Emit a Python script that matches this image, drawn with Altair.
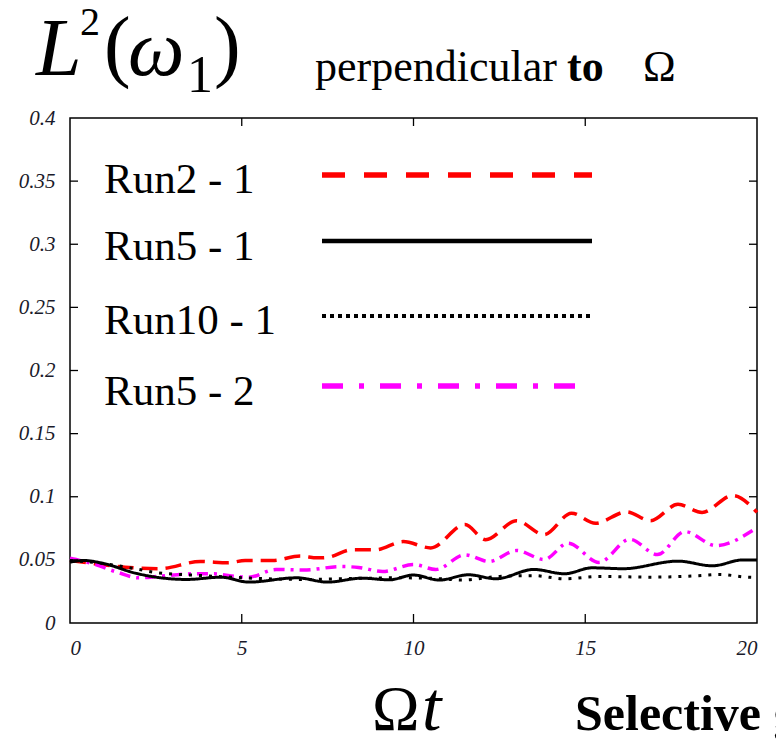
import altair as alt
import pandas as pd

# ---------------- data ----------------
series_names = ["Run2 - 1", "Run5 - 1", "Run10 - 1", "Run5 - 2"]

t_run2_1 = [0, 0.7, 1.6, 2.6, 3.8, 4.6, 5.1, 5.9, 6.7, 7.2, 7.5, 8.2, 8.9, 9.7, 10.5,
            11.5, 12.1, 13.0, 13.8, 14.6, 15.3, 16.2, 16.9, 17.7, 18.4, 19.3, 20.0]
v_run2_1 = [0.0495, 0.047, 0.0442, 0.043, 0.0487, 0.0477, 0.0495, 0.0495, 0.053, 0.0516,
            0.052, 0.058, 0.058, 0.0645, 0.0595, 0.078, 0.066, 0.081, 0.070, 0.087,
            0.079, 0.088, 0.081, 0.094, 0.0876, 0.101, 0.0876]

t_run5_1 = [0, 0.4, 1.0, 1.9, 3.4, 4.4, 5.2, 6.6, 7.5, 8.5, 9.3, 10.0, 10.75, 11.6, 12.4,
            13.5, 14.4, 15.2, 16.1, 17.7, 18.7, 19.6, 20.0]
v_run5_1 = [0.0482, 0.0495, 0.047, 0.0395, 0.0345, 0.0363, 0.0324, 0.0358, 0.0324, 0.0355,
            0.0342, 0.038, 0.034, 0.0382, 0.035, 0.0424, 0.039, 0.0437, 0.043, 0.049,
            0.0453, 0.050, 0.050]

t_run10_1 = [0, 1.0, 1.9, 2.5, 3.9, 5.3, 6.8, 7.8, 8.7, 9.6, 10.85, 11.4, 12.5, 13.5,
             14.4, 15.4, 16.9, 18.3, 18.9, 19.7, 20.0]
v_run10_1 = [0.0495, 0.047, 0.043, 0.040, 0.0375, 0.0355, 0.0345, 0.035, 0.0355, 0.0358,
             0.035, 0.034, 0.0369, 0.0375, 0.035, 0.0369, 0.0363, 0.0375, 0.0385, 0.0363, 0.036]

t_run5_2 = [0, 0.66, 1.4, 2.0, 2.6, 3.6, 4.2, 4.5, 5.2, 6.0, 6.8, 7.9, 8.4, 9.1, 10.0,
            10.65, 11.5, 12.2, 13.0, 13.8, 14.5, 15.4, 16.3, 17.1, 17.9, 18.8, 19.9]
v_run5_2 = [0.0513, 0.047, 0.040, 0.0358, 0.037, 0.039, 0.039, 0.038, 0.0363, 0.0424,
            0.042, 0.0447, 0.044, 0.0408, 0.0463, 0.0424, 0.054, 0.0487, 0.0574, 0.0503,
            0.0632, 0.048, 0.0663, 0.0542, 0.0724, 0.0613, 0.0737]

x_tick_values = [0, 5, 10, 15, 20]
y_tick_values = [0, 0.05, 0.1, 0.15, 0.2, 0.25, 0.3, 0.35, 0.4]
x_inner_ticks = [5, 10, 15]
y_inner_ticks = [0.05, 0.1, 0.15, 0.2, 0.25, 0.3, 0.35]

# ---------------- layout / style ----------------
W, H = 687, 505
SERIF = "Liberation Serif"

xs = alt.Scale(domain=[0, 20], nice=False, zero=False)
ys = alt.Scale(domain=[0, 0.4], nice=False)

x_axis = alt.Axis(values=x_tick_values, ticks=False, domain=False, grid=False,
                  labelFont=SERIF, labelFontStyle="italic", labelFontSize=21,
                  labelColor="#1a1a2a", labelPadding=14, title=None,
                  labelExpr="datum.value")
y_axis = alt.Axis(values=y_tick_values, ticks=False, domain=False, grid=False,
                  labelFont=SERIF, labelFontStyle="italic", labelFontSize=21,
                  labelColor="#1a1a2a", labelPadding=15, title=None,
                  labelExpr="datum.value")


def X(field):
    return alt.X(field, type="quantitative", scale=xs, axis=x_axis, title=None)


def Y(field):
    return alt.Y(field, type="quantitative", scale=ys, axis=y_axis, title=None)


styles = {
    "Run2 - 1": dict(color="#ff0000", dash=[16, 8], width=3.5, ldash=[23, 19], lwidth=5.5, lx2=522),
    "Run5 - 1": dict(color="#000000", dash=[1, 0], width=3, ldash=[1, 0], lwidth=4.5, lx2=522),
    "Run10 - 1": dict(color="#000000", dash=[3, 7], width=3, ldash=[4, 4], lwidth=4, lx2=522),
    "Run5 - 2": dict(color="#ff00ff", dash=[11, 6, 3, 6], width=3.5, ldash=[21, 16, 5, 16], lwidth=5.5, lx2=510),
}
series_data = {
    "Run2 - 1": (t_run2_1, v_run2_1),
    "Run5 - 1": (t_run5_1, v_run5_1),
    "Run10 - 1": (t_run10_1, v_run10_1),
    "Run5 - 2": (t_run5_2, v_run5_2),
}

layers = []

# data lines (draw order: red, magenta, dotted, solid)
for name in ["Run2 - 1", "Run5 - 2", "Run10 - 1", "Run5 - 1"]:
    tt, vv = series_data[name]
    st = styles[name]
    df = pd.DataFrame({"t": tt, "v": vv})
    layers.append(
        alt.Chart(df).mark_line(color=st["color"], strokeDash=st["dash"],
                                strokeWidth=st["width"], interpolate="monotone")
        .encode(x=X("t"), y=Y("v"))
    )

# inward tick marks on all four sides
ydf = pd.DataFrame({"v": y_inner_ticks})
xdf = pd.DataFrame({"t": x_inner_ticks})
layers.append(alt.Chart(ydf).mark_rule(color="black", strokeWidth=1.3)
              .encode(y=Y("v"), x=alt.value(0), x2=alt.value(8)))
layers.append(alt.Chart(ydf).mark_rule(color="black", strokeWidth=1.3)
              .encode(y=Y("v"), x=alt.value(W - 8), x2=alt.value(W)))
layers.append(alt.Chart(xdf).mark_rule(color="black", strokeWidth=1.3)
              .encode(x=X("t"), y=alt.value(H - 9), y2=alt.value(H)))
layers.append(alt.Chart(xdf).mark_rule(color="black", strokeWidth=1.3)
              .encode(x=X("t"), y=alt.value(0), y2=alt.value(8)))


def txt(s, x, y, size, style=None, weight=None):
    kw = dict(font=SERIF, fontSize=size, align="left", baseline="alphabetic", color="black")
    if style:
        kw["fontStyle"] = style
    if weight:
        kw["fontWeight"] = weight
    return alt.Chart(pd.DataFrame({"s": [s]})).mark_text(**kw).encode(
        text="s:N", x=alt.value(x), y=alt.value(y))


# legend (inside the plot)
legend_y_line = [57, 123, 198, 268]
legend_y_text = [75, 142, 216, 287]
for i, name in enumerate(series_names):
    st = styles[name]
    layers.append(txt(name, 34, legend_y_text[i], 43))
    layers.append(
        alt.Chart(pd.DataFrame({"s": [name]})).mark_rule(
            color=st["color"], strokeDash=st["ldash"], strokeWidth=st["lwidth"])
        .encode(x=alt.value(252), x2=alt.value(st["lx2"]), y=alt.value(legend_y_line[i]))
    )

# title: L^2(ω_1)  perpendicular to Ω ; bottom: Ωt  Selective g...
layers += [
    txt("L", -34, -43, 82, style="italic"),
    txt("2", 10, -83, 40),
    txt("(", 34, -46, 80),
    txt("ω", 58, -43, 80, style="italic"),
    txt("1", 117, -26, 52),
    txt(")", 144, -46, 80),
    txt("perpendicular", 245, -37, 44),
    txt("to", 497, -37, 44, weight="bold"),
    txt("Ω", 573, -37, 44),
    txt("Ω", 302, 612, 64),
    txt("t", 352, 612, 70, style="italic"),
    txt("Selective g", 505, 612, 50, weight="bold"),
]

chart = alt.layer(*layers).properties(
    width=W, height=H,
    autosize=alt.AutoSizeParams(type="none"),
    padding={"left": 70, "top": 118, "right": 19, "bottom": 124},
    background="white",
).configure_view(stroke="black", strokeWidth=1.5)

chart.save("out.html", embed_options={"renderer": "svg", "actions": False})
